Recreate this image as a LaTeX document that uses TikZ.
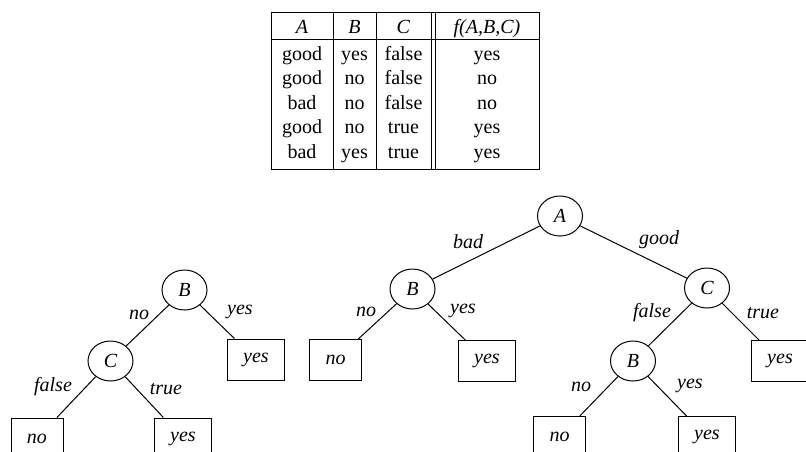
\documentclass[tikz,border=0pt]{standalone}
\usepackage{fontspec}
\setmainfont{Liberation Serif}
\usetikzlibrary{shapes.geometric}
\begin{document}
\begin{tikzpicture}[x=1pt,y=-1pt,
  txt/.style={font=\fontsize{20}{24}\selectfont},
  test/.style={draw, ellipse, line width=1pt, minimum width=45pt, minimum height=40pt,
    inner sep=0pt, font=\fontsize{20}{24}\selectfont\itshape},
  leaf/.style={draw, rectangle, line width=1pt, minimum height=41pt, inner xsep=16pt,
    inner ysep=0pt, font=\fontsize{20}{24}\selectfont\itshape},
  branch/.style={inner sep=0pt, font=\fontsize{20}{24}\selectfont\itshape},
  cell/.style={anchor=base, inner sep=0pt, font=\fontsize{20}{24}\selectfont},
  rule/.style={line width=1pt},
  link/.style={line width=1pt}]
\useasboundingbox (0,0) rectangle (806,451);
\clip (0,0) rectangle (806,451);

% ---- truth table ----
\draw[rule] (271,12) rectangle (539,169);
\draw[rule] (271,39) -- (539,39);
\draw[rule] (333,12) -- (333,169);
\draw[rule] (376,12) -- (376,169);
\draw[rule] (431,12) -- (431,169);
\draw[rule] (435,12) -- (435,169);

\node[cell] (hA) at (302,33) {\textit{A}};
\node[cell] (hB) at (354.5,33) {\textit{B}};
\node[cell] (hC) at (403.5,33) {\textit{C}};
\node[cell] (hF) at (487,33) {\textit{f(A,B,C)}};

\foreach \y/\a/\b/\c/\f [count=\i] in {60/good/yes/false/yes, 84.5/good/no/false/no,
    109/bad/no/false/no, 133.5/good/no/true/yes, 158/bad/yes/true/yes}{
  \node[cell] (a\i) at (302,\y) {\a};
  \node[cell] (b\i) at (354.5,\y) {\b};
  \node[cell] (c\i) at (403.5,\y) {\c};
  \node[cell] (f\i) at (487,\y) {\f};
}

% ---- left tree: B at the root ----
\node[test] (B1) at (184.5,290) {B};
\node[test] (C1) at (110.5,361) {C};
\node[leaf] (Y1a) at (256,359.5) {yes};
\node[leaf] (N1) at (37,438.5) {no};
\node[leaf] (Y1b) at (183,438.5) {yes};

\draw[link] (B1) -- (C1);
\draw[link] (B1) -- (Y1a);
\draw[link] (C1) -- (N1);
\draw[link] (C1) -- (Y1b);

\node[branch] (l1) at (139,315) {no};
\node[branch] (l2) at (240,312) {yes};
\node[branch] (l3) at (53,387) {false};
\node[branch] (l4) at (166,389) {true};

% ---- right tree: A at the root ----
\node[test] (A) at (560,216) {A};
\node[test] (B2) at (412.5,289) {B};
\node[test] (C2) at (707,288) {C};
\node[test] (B3) at (633,361) {B};
\node[leaf] (N2) at (335.5,360) {no};
\node[leaf] (Y2) at (487,361) {yes};
\node[leaf] (Y3) at (780,361) {yes};
\node[leaf] (N3) at (559.5,437) {no};
\node[leaf] (Y4) at (707,437) {yes};

\draw[link] (A) -- (B2);
\draw[link] (A) -- (C2);
\draw[link] (B2) -- (N2);
\draw[link] (B2) -- (Y2);
\draw[link] (C2) -- (B3);
\draw[link] (C2) -- (Y3);
\draw[link] (B3) -- (N3);
\draw[link] (B3) -- (Y4);

\node[branch] (m1) at (468,242) {bad};
\node[branch] (m2) at (659,240) {good};
\node[branch] (m3) at (366,312) {no};
\node[branch] (m4) at (463,311) {yes};
\node[branch] (m5) at (652,313) {false};
\node[branch] (m6) at (763,313) {true};
\node[branch] (m7) at (581,387) {no};
\node[branch] (m8) at (690,386) {yes};
\end{tikzpicture}
\end{document}
